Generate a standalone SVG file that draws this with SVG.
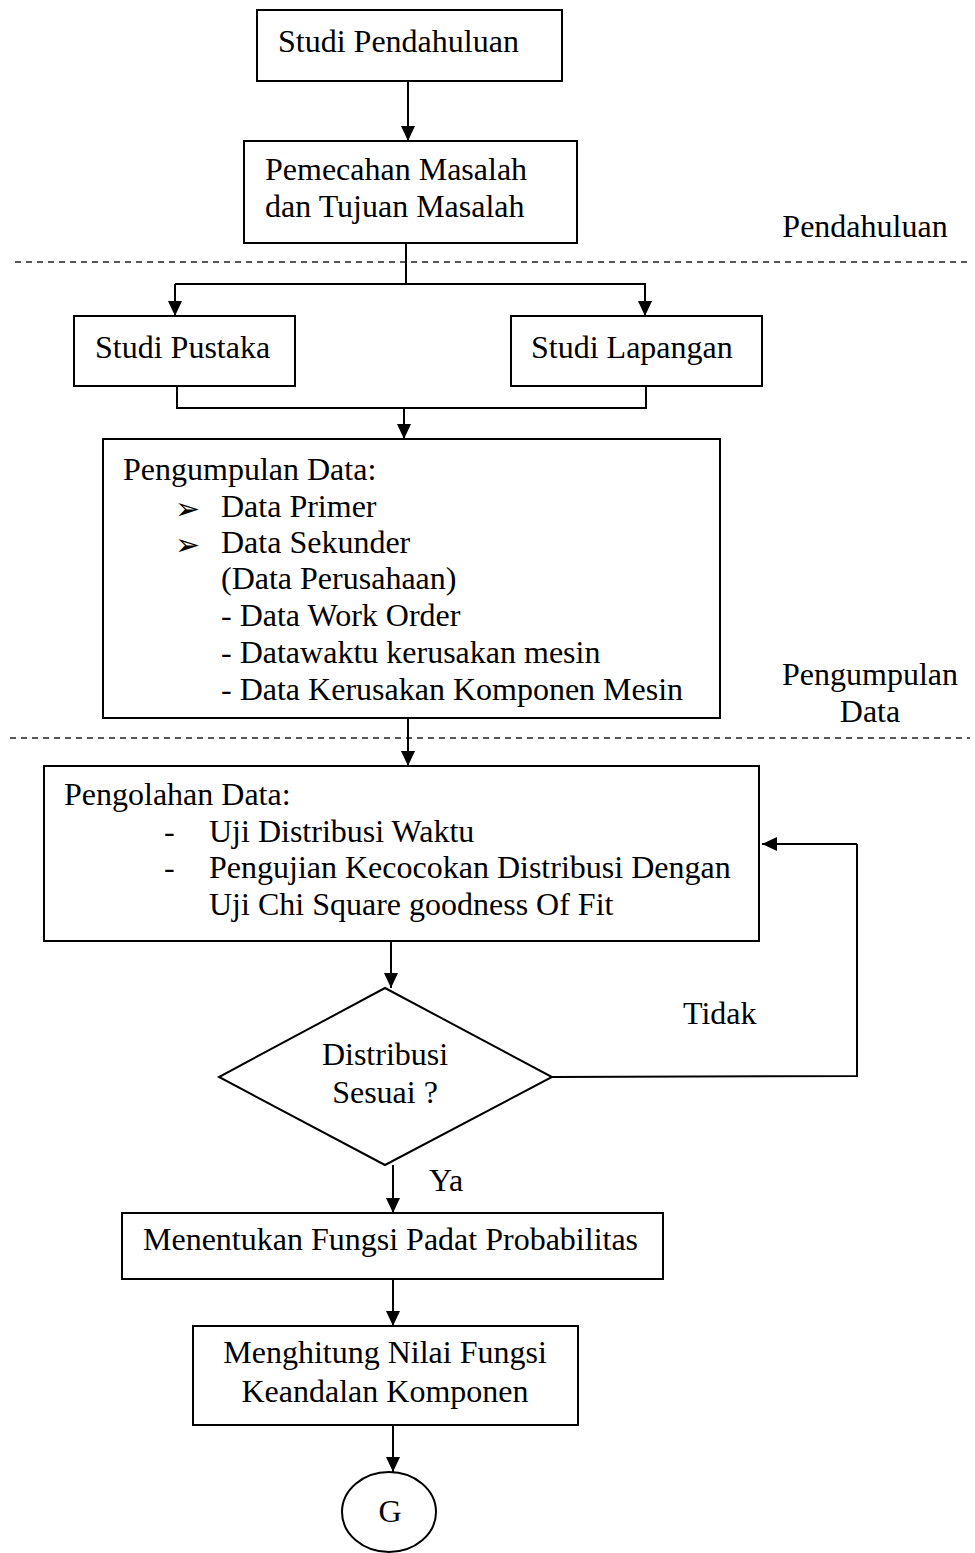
<svg xmlns="http://www.w3.org/2000/svg" width="975" height="1553" viewBox="0 0 975 1553">
<style>
  .box{fill:#fff;stroke:#000;stroke-width:2}
  .t{font-family:"Liberation Serif","Times New Roman",serif;font-size:32px;fill:#000}
  .c{text-anchor:middle}
  .ln{fill:none;stroke:#000;stroke-width:2}
  .arr{fill:none;stroke:#000;stroke-width:2;marker-end:url(#ah)}
  .dash{fill:none;stroke:#222;stroke-width:1.4;stroke-dasharray:6 5}
  .bul{font-family:"DejaVu Sans",sans-serif;font-size:30px;fill:#000}
</style>
<defs>
  <marker id="ah" markerUnits="userSpaceOnUse" markerWidth="16" markerHeight="16" viewBox="0 0 16 16" refX="15" refY="8" orient="auto">
    <path d="M0,1 L15,8 L0,15 Z" fill="#000"/>
  </marker>
</defs>
<rect width="975" height="1553" fill="#fff"/>

<g id="phase-lines">
  <line class="dash" x1="15" y1="262" x2="970" y2="262"/>
  <line class="dash" x1="10" y1="738" x2="970" y2="738"/>
  <text class="t c" x="865" y="237">Pendahuluan</text>
  <text class="t c" x="870" y="685">Pengumpulan</text>
  <text class="t c" x="870" y="722">Data</text>
</g>

<g id="connectors">
  <line class="arr" x1="408" y1="81" x2="408" y2="141"/>
  <polyline class="ln" points="406,240 406,284"/>
  <line class="ln" x1="175" y1="284" x2="646" y2="284"/>
  <line class="arr" x1="175" y1="284" x2="175" y2="316"/>
  <line class="arr" x1="645" y1="284" x2="645" y2="316"/>
  <polyline class="ln" points="177,386 177,408 646,408 646,386"/>
  <line class="arr" x1="404" y1="408" x2="404" y2="439"/>
  <line class="arr" x1="408" y1="718" x2="408" y2="766"/>
  <line class="arr" x1="391" y1="941" x2="391" y2="988"/>
  <polyline class="ln" points="552,1077 857,1076 857,844"/>
  <line class="arr" x1="857" y1="844" x2="762" y2="844"/>
  <line class="arr" x1="393" y1="1165" x2="393" y2="1213"/>
  <line class="arr" x1="393" y1="1279" x2="393" y2="1326"/>
  <line class="arr" x1="393" y1="1425" x2="393" y2="1472"/>
  <text class="t" x="683" y="1024">Tidak</text>
  <text class="t" x="429" y="1191">Ya</text>
</g>

<g id="studi-pendahuluan">
  <rect class="box" x="257" y="10" width="305" height="71"/>
  <text class="t" x="278" y="52">Studi Pendahuluan</text>
</g>

<g id="pemecahan-masalah">
  <rect class="box" x="244" y="141" width="333" height="102"/>
  <text class="t" x="265" y="180">Pemecahan Masalah</text>
  <text class="t" x="265" y="217">dan Tujuan Masalah</text>
</g>

<g id="studi-pustaka">
  <rect class="box" x="74" y="316" width="221" height="70"/>
  <text class="t" x="95" y="358">Studi Pustaka</text>
</g>

<g id="studi-lapangan">
  <rect class="box" x="511" y="316" width="251" height="70"/>
  <text class="t" x="531" y="358">Studi Lapangan</text>
</g>

<g id="pengumpulan-data">
  <rect class="box" x="103" y="439" width="617" height="279"/>
  <text class="t" x="123" y="480">Pengumpulan Data:</text>
  <text class="bul" x="175" y="519">➢</text>
  <text class="t" x="221" y="517">Data Primer</text>
  <text class="bul" x="175" y="555">➢</text>
  <text class="t" x="221" y="553">Data Sekunder</text>
  <text class="t" x="221" y="589">(Data Perusahaan)</text>
  <text class="t" x="221" y="626">- Data Work Order</text>
  <text class="t" x="221" y="663">- Datawaktu kerusakan mesin</text>
  <text class="t" x="221" y="700">- Data Kerusakan Komponen Mesin</text>
</g>

<g id="pengolahan-data">
  <rect class="box" x="44" y="766" width="715" height="175"/>
  <text class="t" x="64" y="805">Pengolahan Data:</text>
  <text class="t" x="164" y="842">-</text>
  <text class="t" x="209" y="842">Uji Distribusi Waktu</text>
  <text class="t" x="164" y="878">-</text>
  <text class="t" x="209" y="878">Pengujian Kecocokan Distribusi Dengan</text>
  <text class="t" x="209" y="915">Uji Chi Square goodness Of Fit</text>
</g>

<g id="distribusi-sesuai">
  <polygon class="box" points="385,988 552,1077 385,1165 219,1077"/>
  <text class="t c" x="385" y="1065">Distribusi</text>
  <text class="t c" x="385" y="1103">Sesuai ?</text>
</g>

<g id="fungsi-padat">
  <rect class="box" x="122" y="1213" width="541" height="66"/>
  <text class="t" x="143" y="1250">Menentukan Fungsi Padat Probabilitas</text>
</g>

<g id="fungsi-keandalan">
  <rect class="box" x="193" y="1326" width="385" height="99"/>
  <text class="t c" x="385" y="1363">Menghitung Nilai Fungsi</text>
  <text class="t c" x="385" y="1402">Keandalan Komponen</text>
</g>

<g id="connector-g">
  <ellipse class="box" cx="389" cy="1512" rx="47" ry="40"/>
  <text class="t c" x="390" y="1522">G</text>
</g>
</svg>
